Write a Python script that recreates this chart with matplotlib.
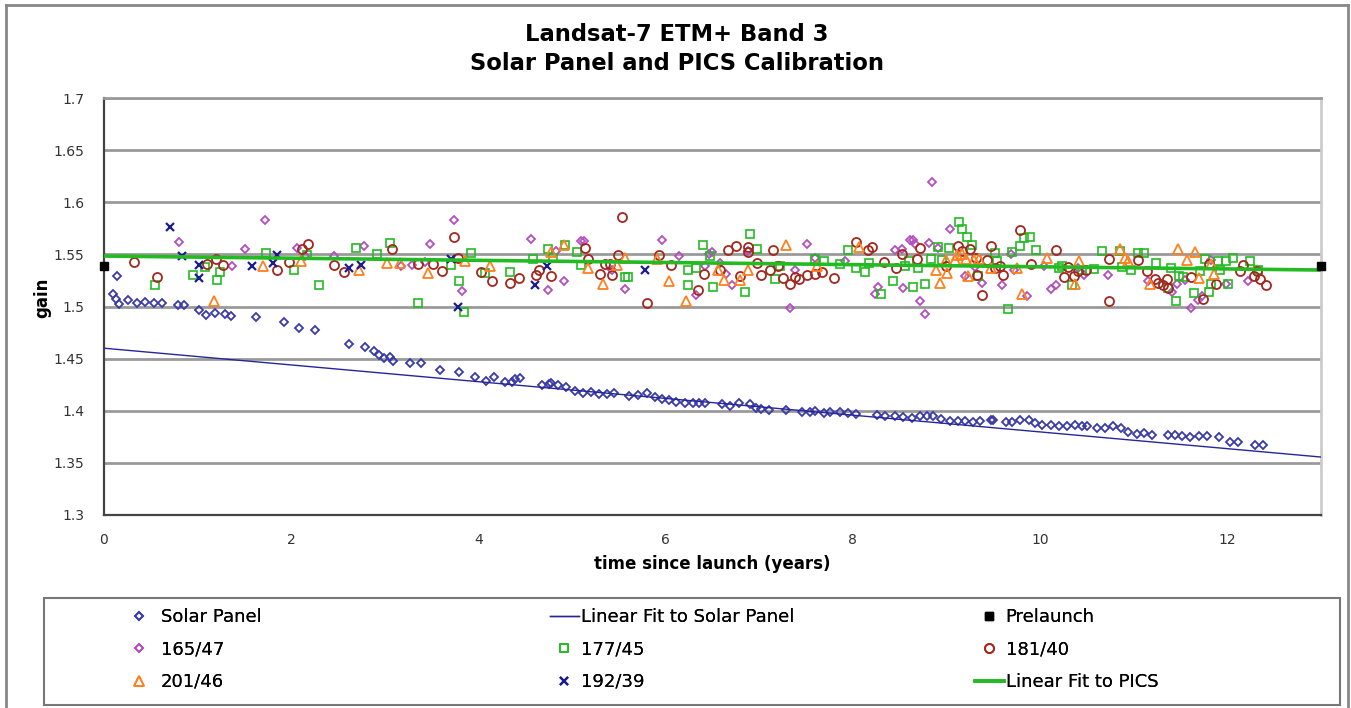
import matplotlib.pyplot as plt
import numpy as np
from matplotlib.lines import Line2D
from matplotlib.patches import Rectangle

# Solar panel gain vs. time since launch (years)
solar_t = [0.10, 0.13, 0.14, 0.16, 0.26, 0.35, 0.44, 0.53, 0.62, 0.79,
           0.85, 1.01, 1.09, 1.19, 1.29, 1.36, 1.62, 1.92, 2.08, 2.25,
           2.62, 2.79, 2.88, 2.94, 2.99, 3.05, 3.09, 3.27, 3.39, 3.59,
           3.79, 3.96, 4.08, 4.17, 4.28, 4.36, 4.39, 4.44, 4.68, 4.75,
           4.77, 4.85, 4.93, 5.03, 5.12, 5.20, 5.29, 5.37, 5.45, 5.61,
           5.70, 5.80, 5.89, 5.96, 6.03, 6.11, 6.21, 6.29, 6.36, 6.42,
           6.60, 6.69, 6.78, 6.90, 6.96, 7.02, 7.10, 7.28, 7.46, 7.54,
           7.60, 7.69, 7.76, 7.86, 7.95, 8.03, 8.26, 8.34, 8.45, 8.54,
           8.63, 8.72, 8.79, 8.86, 8.94, 9.04, 9.12, 9.20, 9.28, 9.36,
           9.47, 9.50, 9.63, 9.70, 9.79, 9.88, 9.94, 10.02, 10.12, 10.20,
           10.29, 10.37, 10.45, 10.50, 10.61, 10.69, 10.78, 10.86, 10.94, 11.03,
           11.11, 11.20, 11.37, 11.44, 11.51, 11.60, 11.70, 11.78, 11.91, 12.03,
           12.11, 12.30, 12.38]
solar_g = [1.512, 1.507, 1.529, 1.502, 1.506, 1.503, 1.504, 1.503, 1.503, 1.501,
           1.501, 1.497, 1.492, 1.494, 1.493, 1.491, 1.490, 1.485, 1.479, 1.477,
           1.464, 1.461, 1.457, 1.453, 1.451, 1.452, 1.448, 1.446, 1.446, 1.439,
           1.437, 1.432, 1.429, 1.432, 1.428, 1.428, 1.430, 1.431, 1.425, 1.426,
           1.427, 1.425, 1.423, 1.419, 1.417, 1.418, 1.416, 1.416, 1.417, 1.414,
           1.415, 1.417, 1.413, 1.411, 1.410, 1.408, 1.407, 1.407, 1.407, 1.407,
           1.406, 1.405, 1.407, 1.406, 1.403, 1.402, 1.401, 1.401, 1.399, 1.399,
           1.400, 1.398, 1.399, 1.399, 1.398, 1.397, 1.396, 1.395, 1.395, 1.394,
           1.393, 1.395, 1.395, 1.395, 1.392, 1.390, 1.390, 1.390, 1.389, 1.390,
           1.391, 1.391, 1.389, 1.389, 1.391, 1.391, 1.388, 1.386, 1.386, 1.385,
           1.385, 1.386, 1.385, 1.385, 1.383, 1.383, 1.385, 1.383, 1.380, 1.378,
           1.379, 1.377, 1.377, 1.377, 1.376, 1.375, 1.376, 1.376, 1.375, 1.370,
           1.370, 1.367, 1.367]

# linear fits (value at t=0 and t=13)
fit_t = [0, 13]
solar_fit = [1.460, 1.3556]
pics_fit = [1.5484, 1.535]

prelaunch_t = [0, 13]
prelaunch_g = [1.539, 1.539]

# PICS sites: (time, gain)
site_165_47 = [
    (0.80, 1.562), (1.37, 1.539), (1.51, 1.555), (1.72, 1.583), (2.06, 1.556), (2.15, 1.548),
    (2.46, 1.548), (2.78, 1.558), (3.17, 1.539), (3.29, 1.540), (3.43, 1.543), (3.48, 1.560),
    (3.74, 1.583), (3.82, 1.515), (4.56, 1.565), (4.74, 1.516), (4.83, 1.553), (4.91, 1.524),
    (5.09, 1.563), (5.13, 1.563), (5.43, 1.535), (5.57, 1.517), (5.96, 1.564), (6.14, 1.548),
    (6.32, 1.511), (6.42, 1.539), (6.46, 1.550), (6.49, 1.552), (6.58, 1.542), (6.64, 1.531),
    (6.71, 1.521), (6.88, 1.553), (7.33, 1.499), (7.38, 1.535), (7.51, 1.560), (7.60, 1.547),
    (7.92, 1.544), (8.24, 1.512), (8.27, 1.519), (8.45, 1.554), (8.52, 1.555), (8.54, 1.518),
    (8.61, 1.564), (8.64, 1.564), (8.66, 1.560), (8.72, 1.505), (8.77, 1.493), (8.81, 1.561),
    (8.85, 1.619), (8.91, 1.556), (9.04, 1.574), (9.20, 1.529), (9.30, 1.538), (9.38, 1.523),
    (9.59, 1.521), (9.69, 1.550), (9.72, 1.535), (9.86, 1.510), (10.04, 1.539), (10.12, 1.517),
    (10.17, 1.521), (10.40, 1.537), (10.47, 1.530), (10.72, 1.530), (11.15, 1.524), (11.41, 1.514),
    (11.46, 1.522), (11.55, 1.525), (11.61, 1.499), (11.69, 1.506), (11.73, 1.510), (11.83, 1.545),
    (11.98, 1.522), (12.22, 1.524)]

site_177_45 = [
    (0.55, 1.521), (0.95, 1.530), (1.08, 1.538), (1.21, 1.525), (1.24, 1.533), (1.73, 1.551),
    (2.03, 1.535), (2.17, 1.549), (2.30, 1.521), (2.69, 1.556), (2.92, 1.550), (3.05, 1.561),
    (3.35, 1.503), (3.71, 1.540), (3.79, 1.524), (3.85, 1.495), (3.92, 1.551), (4.07, 1.532),
    (4.34, 1.533), (4.58, 1.546), (4.74, 1.555), (4.80, 1.547), (4.92, 1.559), (5.05, 1.552),
    (5.10, 1.540), (5.56, 1.528), (5.60, 1.528), (6.24, 1.535), (6.24, 1.521), (6.32, 1.537),
    (6.40, 1.559), (6.47, 1.548), (6.51, 1.519), (6.85, 1.514), (6.90, 1.570), (6.98, 1.555),
    (7.17, 1.526), (7.22, 1.539), (7.60, 1.546), (7.69, 1.544), (7.86, 1.541), (7.95, 1.554),
    (8.03, 1.537), (8.13, 1.533), (8.17, 1.542), (8.30, 1.512), (8.43, 1.524), (8.56, 1.539),
    (8.60, 1.544), (8.64, 1.519), (8.69, 1.537), (8.77, 1.522), (8.83, 1.546), (8.91, 1.557),
    (8.95, 1.545), (9.03, 1.556), (9.13, 1.581), (9.17, 1.574), (9.22, 1.567), (9.27, 1.559),
    (9.34, 1.529), (9.52, 1.551), (9.54, 1.544), (9.66, 1.498), (9.70, 1.552), (9.79, 1.558),
    (9.83, 1.566), (9.89, 1.567), (9.96, 1.554), (10.20, 1.537), (10.23, 1.539), (10.34, 1.521),
    (10.45, 1.535), (10.58, 1.536), (10.66, 1.553), (10.85, 1.553), (10.87, 1.538), (10.97, 1.535),
    (11.04, 1.551), (11.11, 1.551), (11.24, 1.542), (11.37, 1.518), (11.40, 1.537), (11.45, 1.505),
    (11.48, 1.529), (11.53, 1.528), (11.64, 1.513), (11.71, 1.534), (11.76, 1.546), (11.80, 1.514),
    (11.83, 1.522), (11.90, 1.544), (11.92, 1.535), (11.98, 1.544), (12.01, 1.522), (12.06, 1.547),
    (12.24, 1.544), (12.33, 1.535)]

site_181_40 = [
    (0.32, 1.543), (0.57, 1.528), (1.10, 1.541), (1.20, 1.546), (1.27, 1.540), (1.85, 1.535),
    (1.98, 1.543), (2.12, 1.555), (2.18, 1.560), (2.46, 1.540), (2.56, 1.533), (3.08, 1.555),
    (3.35, 1.541), (3.51, 1.541), (3.61, 1.534), (3.74, 1.567), (3.78, 1.547), (4.03, 1.533),
    (4.14, 1.524), (4.34, 1.523), (4.43, 1.527), (4.61, 1.530), (4.65, 1.535), (4.78, 1.529),
    (5.14, 1.556), (5.17, 1.546), (5.30, 1.531), (5.35, 1.541), (5.40, 1.541), (5.43, 1.530),
    (5.49, 1.549), (5.53, 1.586), (5.80, 1.503), (5.93, 1.549), (6.06, 1.540), (6.35, 1.516),
    (6.41, 1.531), (6.58, 1.535), (6.67, 1.554), (6.75, 1.558), (6.79, 1.529), (6.88, 1.557),
    (6.88, 1.552), (6.98, 1.542), (7.02, 1.530), (7.11, 1.535), (7.15, 1.554), (7.20, 1.539),
    (7.25, 1.527), (7.33, 1.522), (7.38, 1.528), (7.42, 1.526), (7.51, 1.530), (7.59, 1.531),
    (7.67, 1.533), (7.80, 1.527), (8.03, 1.562), (8.16, 1.554), (8.20, 1.557), (8.33, 1.543),
    (8.46, 1.537), (8.52, 1.550), (8.68, 1.546), (8.72, 1.556), (8.99, 1.539), (9.12, 1.558),
    (9.17, 1.553), (9.25, 1.555), (9.31, 1.547), (9.33, 1.530), (9.38, 1.511), (9.43, 1.545),
    (9.47, 1.558), (9.52, 1.537), (9.57, 1.539), (9.60, 1.530), (9.78, 1.573), (9.90, 1.541),
    (10.17, 1.554), (10.25, 1.528), (10.30, 1.538), (10.36, 1.529), (10.40, 1.534), (10.49, 1.535),
    (10.74, 1.546), (10.74, 1.505), (11.04, 1.545), (11.14, 1.534), (11.23, 1.526), (11.26, 1.523),
    (11.31, 1.521), (11.35, 1.526), (11.37, 1.518), (11.61, 1.528), (11.74, 1.507), (11.80, 1.541),
    (11.88, 1.522), (12.14, 1.534), (12.17, 1.540), (12.28, 1.529), (12.32, 1.534), (12.35, 1.526),
    (12.41, 1.521)]

site_201_46 = [
    (1.18, 1.505), (1.70, 1.539), (2.10, 1.544), (2.72, 1.535), (3.02, 1.542), (3.16, 1.542),
    (3.46, 1.532), (3.86, 1.544), (4.12, 1.539), (4.78, 1.552), (4.91, 1.559), (5.17, 1.537),
    (5.33, 1.522), (5.48, 1.540), (5.57, 1.547), (5.91, 1.546), (6.04, 1.524), (6.22, 1.505),
    (6.56, 1.535), (6.62, 1.525), (6.79, 1.525), (6.88, 1.535), (7.28, 1.559), (7.62, 1.539),
    (8.07, 1.557), (8.89, 1.535), (8.93, 1.523), (8.99, 1.545), (9.01, 1.532), (9.09, 1.545),
    (9.11, 1.549), (9.16, 1.550), (9.21, 1.546), (9.23, 1.529), (9.29, 1.545), (9.35, 1.546),
    (9.47, 1.537), (9.75, 1.537), (9.81, 1.512), (10.07, 1.547), (10.37, 1.522), (10.41, 1.544),
    (10.85, 1.555), (10.91, 1.547), (10.94, 1.544), (11.17, 1.522), (11.47, 1.555), (11.57, 1.545),
    (11.65, 1.552), (11.70, 1.527), (11.83, 1.541), (11.86, 1.531)]

site_192_39 = [
    (0.70, 1.576), (0.83, 1.548), (1.01, 1.540), (1.02, 1.527), (1.58, 1.539), (1.81, 1.542),
    (1.85, 1.549), (2.62, 1.537), (2.75, 1.540), (3.71, 1.546), (3.78, 1.500), (4.60, 1.521),
    (4.73, 1.539), (5.78, 1.535)]

y_ticks = [1.3, 1.35, 1.4, 1.45, 1.5, 1.55, 1.6, 1.65, 1.7]
y_labels = ["1.3", "1.35", "1.4", "1.45", "1.5", "1.55", "1.6", "1.65", "1.7"]
x_ticks = [0, 2, 4, 6, 8, 10, 12]

W, H = 1351, 708
fig = plt.figure(figsize=(W / 100, H / 100), dpi=100)
ax = fig.add_axes([104 / W, 1 - 515 / H, 1217 / W, 417 / H])

for v in y_ticks[1:]:
    ax.axhline(v, color="#9a9a9a", lw=2.0, zorder=1)

ms_kw = dict(linestyle="none", markerfacecolor="none")
h_solar, = ax.plot(solar_t, solar_g, marker="D", markersize=4.2, mew=1.3,
                   color="#3a3aa8", label="Solar Panel", zorder=3, **ms_kw)
h_sfit, = ax.plot(fit_t, solar_fit, color="#26269a", lw=1.0,
                  label="Linear Fit to Solar Panel", zorder=4)
h_pre, = ax.plot(prelaunch_t, prelaunch_g, linestyle="none", marker="s",
                 markersize=6, color="black", label="Prelaunch", zorder=6, clip_on=False)

s = np.array(site_165_47).T
h_165, = ax.plot(s[0], s[1], marker="D", markersize=4.2, mew=1.3, color="#b44ec0",
                 label="165/47", zorder=3, **ms_kw)
s = np.array(site_177_45).T
h_177, = ax.plot(s[0], s[1], marker="s", markersize=6.3, mew=1.2, color="#22bb22",
                 label="177/45", zorder=3, **ms_kw)
s = np.array(site_181_40).T
h_181, = ax.plot(s[0], s[1], marker="o", markersize=6.5, mew=1.3, color="#a2281e",
                 label="181/40", zorder=3, **ms_kw)
s = np.array(site_201_46).T
h_201, = ax.plot(s[0], s[1], marker="^", markersize=6.5, mew=1.3, color="#ff8020",
                 label="201/46", zorder=3, **ms_kw)
s = np.array(site_192_39).T
h_192, = ax.plot(s[0], s[1], marker="x", markersize=5.5, mew=1.6, color="#1c1c8c",
                 label="192/39", zorder=3, linestyle="none")
h_pfit, = ax.plot(fit_t, pics_fit, color="#22bb22", lw=2.6,
                  label="Linear Fit to PICS", zorder=5)

ax.set_xlim(0, 13)
ax.set_ylim(1.3, 1.7)
ax.set_yticks(y_ticks)
ax.set_yticklabels(y_labels)
ax.set_xticks(x_ticks)
ax.tick_params(axis="both", length=0, labelsize=10, labelcolor="#333333")
ax.tick_params(axis="y", pad=14)
ax.tick_params(axis="x", pad=13)
ax.spines["left"].set_color("#444444")
ax.spines["left"].set_linewidth(1.6)
ax.spines["bottom"].set_color("#444444")
ax.spines["bottom"].set_linewidth(1.6)
ax.spines["top"].set_color("#9a9a9a")
ax.spines["top"].set_linewidth(2.0)
ax.spines["right"].set_color("#cccccc")
ax.spines["right"].set_linewidth(2.0)

ax.set_xlabel("time since launch (years)", fontsize=12, fontweight="bold", labelpad=6)
ax.set_ylabel("gain", fontsize=12, fontweight="bold")
ax.yaxis.set_label_coords(-0.043, 0.52)

fig.text(677 / W, 1 - 49 / H, "Landsat-7 ETM+ Band 3\nSolar Panel and PICS Calibration",
         ha="center", va="center", fontsize=16.3, fontweight="bold", linespacing=1.3)

# outer frame of the chart
fig.add_artist(Line2D([6 / W, 6 / W], [0, 1 - 5 / H], transform=fig.transFigure,
                      color="#888888", lw=2))
fig.add_artist(Line2D([6 / W, 1348 / W], [1 - 5 / H, 1 - 5 / H], transform=fig.transFigure,
                      color="#888888", lw=2))
fig.add_artist(Line2D([1348 / W, 1348 / W], [0, 1 - 5 / H], transform=fig.transFigure,
                      color="#888888", lw=2))

# legend box
fig.add_artist(Rectangle((44 / W, 3 / H), 1296 / W, 107 / H, transform=fig.transFigure,
                         facecolor="white", edgecolor="#777777", lw=1.5))
leg_kw = dict(loc="upper left", frameon=False, fontsize=13, handlelength=1.6,
              borderpad=0, borderaxespad=0, labelspacing=0.8, numpoints=1)
cols = [([h_solar, h_165, h_201], 125),
        ([h_sfit, h_177, h_192], 550),
        ([h_pre, h_181, h_pfit], 975)]
for handles, x0 in cols:
    pad = 0.4 if x0 == 125 else 0.1
    lg = fig.legend(handles=handles, bbox_to_anchor=(x0 / W, 1 - 608 / H),
                    handletextpad=pad, **leg_kw)
    fig.add_artist(lg)

fig.savefig("out.png", dpi=100)
